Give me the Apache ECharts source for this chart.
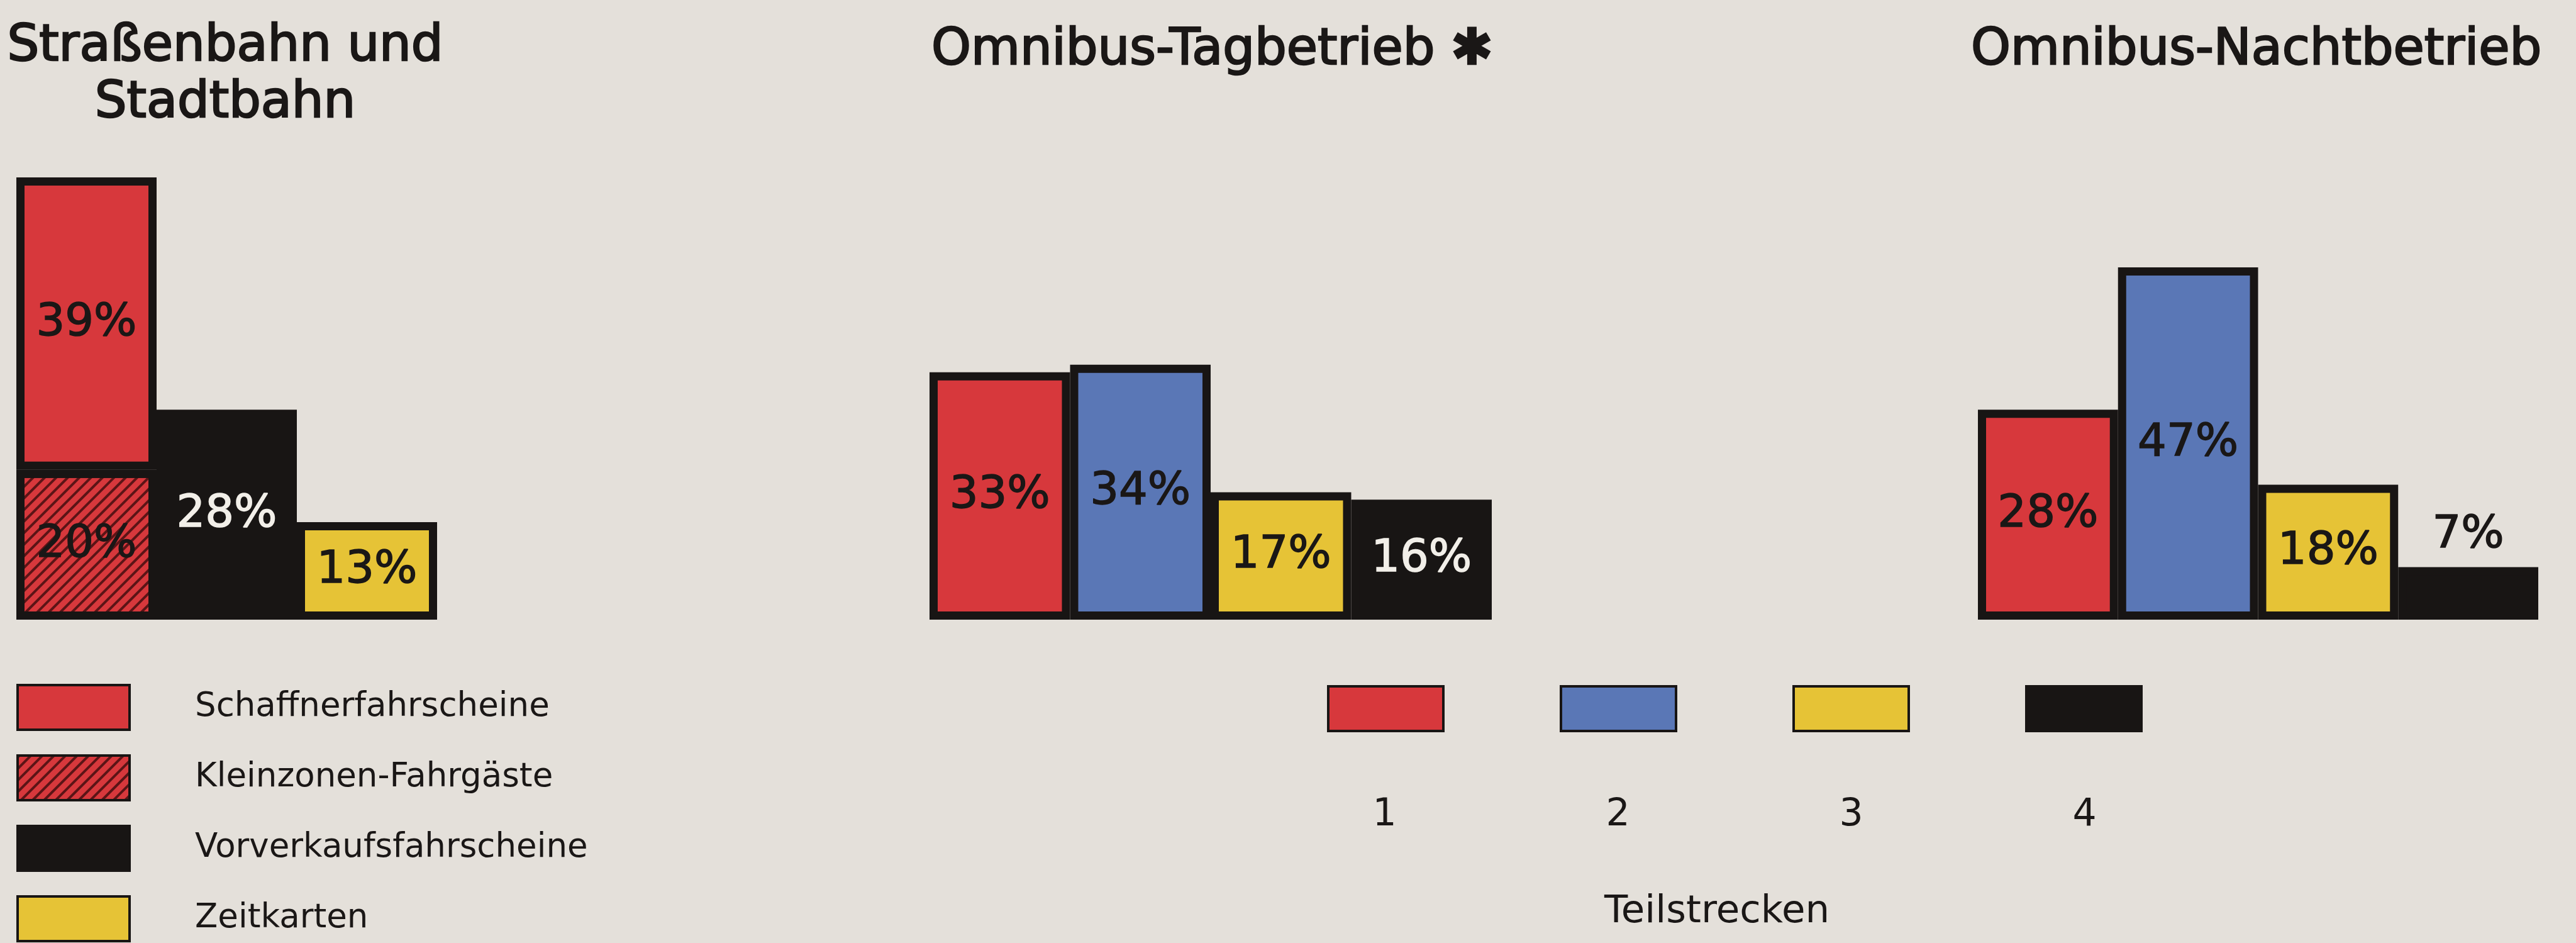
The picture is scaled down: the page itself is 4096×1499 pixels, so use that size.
<!DOCTYPE html>
<html>
<head>
<meta charset="utf-8">
<title>Fahrscheinarten</title>
<script src="https://cdn.jsdelivr.net/npm/echarts@6/dist/echarts.min.js"></script>
<style>
  html, body { margin: 0; padding: 0; background: #e4e0da; }
  #chart { width: 4096px; height: 1499px; }
</style>
</head>
<body>
<div id="chart"></div>
<script>
// Straßenbahn und Stadtbahn (Anteile in %)
const tramNames = ['Kleinzonen-Fahrgäste', 'Schaffnerfahrscheine', 'Vorverkaufsfahrscheine', 'Zeitkarten'];
const tramValues = [20, 39, 28, 13];
const tramColumn = [0, 0, 1, 2]; // in welcher Säule der Wert steht
const tramLegend = ['Schaffnerfahrscheine', 'Kleinzonen-Fahrgäste', 'Vorverkaufsfahrscheine', 'Zeitkarten'];

// Omnibus nach Teilstrecken (Anteile in %)
const zones = ['1', '2', '3', '4'];
const dayValues = [33, 34, 17, 16];
const nightValues = [28, 47, 18, 7];

const FONT = 'DejaVu Sans';
const INK = '#1a1716';
const LIGHT = '#f2efe9';
const RED = '#d7383c', BLUE = '#5a77b6', YELLOW = '#e6c336', BLACK = '#181514';

// Farben je Kategorie
const tramStyle = {
  'Kleinzonen-Fahrgäste': { color: RED, text: INK, decal: true },
  'Schaffnerfahrscheine': { color: RED, text: INK },
  'Vorverkaufsfahrscheine': { color: BLACK, text: LIGHT },
  'Zeitkarten': { color: YELLOW, text: INK }
};
const zoneColors = [RED, BLUE, YELLOW, BLACK];

const BORDER = 13;
const LEG = { left: 2110, top: 1089, w: 183, h: 71, gap: 183 };

function oneBar(name, value, col, n, axis, stack, st) {
  const data = [];
  for (let j = 0; j < n; j++) data.push(j === col ? value : '-');
  const itemStyle = { color: st.color, borderColor: BLACK, borderWidth: BORDER };
  if (st.decal) {
    itemStyle.decal = {
      symbol: 'rect', symbolSize: 1,
      dashArrayX: [1, 0], dashArrayY: [4, 9],
      rotation: -Math.PI / 4,
      color: 'rgba(50,8,10,0.75)'
    };
  }
  return {
    name: name,
    type: 'bar',
    stack: stack,
    xAxisIndex: axis,
    yAxisIndex: axis,
    barWidth: '100%',
    data: data,
    itemStyle: itemStyle,
    label: {
      show: true,
      position: st.pos || 'inside',
      distance: 14,
      formatter: '{c}%',
      color: st.text,
      fontFamily: FONT,
      fontSize: 72,
      textBorderColor: st.text,
      textBorderWidth: 1.5
    },
    emphasis: { disabled: true },
    silent: true,
    animation: false
  };
}

const series = [];
tramNames.forEach(function (nm, i) {
  series.push(oneBar(nm, tramValues[i], tramColumn[i], 3, 0, 'tram', tramStyle[nm]));
});
zones.forEach(function (z, i) {
  series.push(oneBar(z, dayValues[i], i, 4, 1, 'day', {
    color: zoneColors[i], text: i === 3 ? LIGHT : INK
  }));
});
zones.forEach(function (z, i) {
  series.push(oneBar(z, nightValues[i], i, 4, 2, 'night', {
    color: zoneColors[i], text: INK, pos: i === 3 ? 'top' : 'inside'
  }));
});

const grids = [
  { left: 26, width: 669, top: 270, height: 715 },
  { left: 1478, width: 894, top: 270, height: 715 },
  { left: 3145, width: 891, top: 270, height: 715 }
];
const xAxes = grids.map(function (g, i) {
  return {
    type: 'category', gridIndex: i,
    data: i === 0 ? ['a', 'b', 'c'] : zones,
    show: false
  };
});
const yAxes = grids.map(function (g, i) {
  return { type: 'value', gridIndex: i, min: 0, max: 60, show: false };
});

const titleStyle = {
  fontFamily: FONT, fontSize: 80, fontWeight: 'normal', lineHeight: 90, color: INK,
  textBorderColor: INK, textBorderWidth: 2.5
};

const graphics = zones.map(function (z, i) {
  return {
    type: 'text',
    x: LEG.left + i * (LEG.w + LEG.gap + 5) + LEG.w / 2,
    y: 1296,
    style: { text: z, font: '60px "DejaVu Sans"', fill: INK, align: 'center', verticalAlign: 'middle' }
  };
});
graphics.push({
  type: 'text', x: 2730, y: 1450,
  style: { text: 'Teilstrecken', font: '61px "DejaVu Sans"', fill: INK, align: 'center', verticalAlign: 'middle' }
});

const chart = echarts.init(document.getElementById('chart'));
chart.setOption({
  backgroundColor: '#e4e0da',
  animation: false,
  title: [
    { text: 'Straßenbahn und\nStadtbahn', left: 358, top: 30, textAlign: 'center', padding: 0, textStyle: titleStyle },
    { text: 'Omnibus-Tagbetrieb ✱', left: 1481, top: 36, padding: 0, textStyle: titleStyle },
    { text: 'Omnibus-Nachtbetrieb', left: 3134, top: 36, padding: 0, textStyle: titleStyle }
  ],
  grid: grids,
  xAxis: xAxes,
  yAxis: yAxes,
  legend: [
    {
      data: tramLegend,
      orient: 'vertical',
      left: 26, top: 1087,
      itemWidth: 178, itemHeight: 71, itemGap: 37,
      icon: 'rect',
      selectedMode: false,
      padding: 0,
      itemStyle: { borderColor: BLACK, borderWidth: 4 },
      textStyle: { fontFamily: FONT, fontSize: 53, color: INK, padding: [6, 0, 0, 99] }
    },
    {
      data: zones,
      orient: 'horizontal',
      left: LEG.left, top: LEG.top,
      itemWidth: LEG.w, itemHeight: LEG.h, itemGap: LEG.gap,
      icon: 'rect',
      selectedMode: false,
      padding: 0,
      formatter: function () { return ''; },
      itemStyle: { borderColor: BLACK, borderWidth: 4 },
      textStyle: { fontSize: 1 }
    }
  ],
  graphic: graphics,
  series: series
});
</script>
</body>
</html>
